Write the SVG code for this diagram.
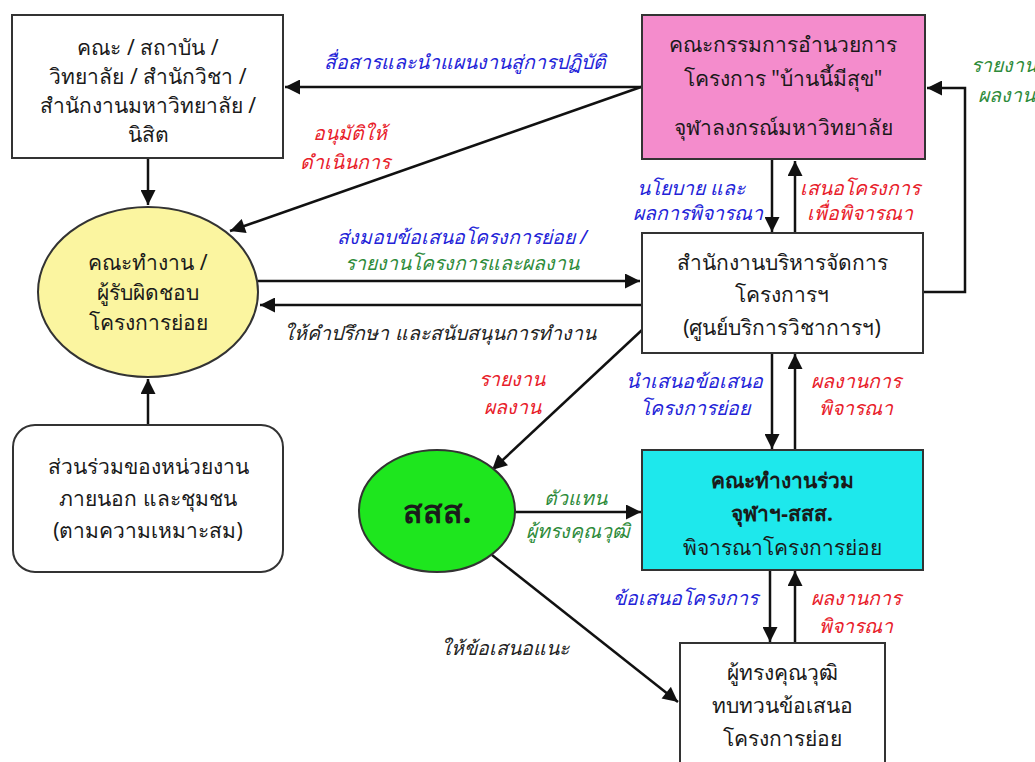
<svg xmlns="http://www.w3.org/2000/svg" width="1035" height="762" viewBox="0 0 1035 762">
<style>
.t{font-family:"Noto Sans","DejaVu Sans",sans-serif;font-size:21px;fill:#1a1a1a;text-anchor:middle}
.b{font-weight:bold}
.l{font-family:"Noto Sans","DejaVu Sans",sans-serif;font-size:19.5px;font-style:italic;text-anchor:middle}
.e{text-anchor:end}
.blue{fill:#2323d8}.red{fill:#e8202a}.green{fill:#2e8b3a}.dark{fill:#222}
.box{stroke:#333;stroke-width:2}
.c{stroke:#111;stroke-width:2.5;fill:none}
</style>
<defs>
<marker id="ah" viewBox="0 0 10 10" refX="10" refY="5" markerWidth="6.5" markerHeight="6" orient="auto" markerUnits="strokeWidth">
<path d="M0,0 L10,5 L0,10 z" fill="#111"/>
</marker>
</defs>
<rect width="1035" height="762" fill="#fff"/>
<g id="connectors">
<line class="c" x1="641" y1="87" x2="285" y2="87" marker-end="url(#ah)"/>
<line class="c" x1="641" y1="87" x2="230" y2="231" marker-end="url(#ah)"/>
<line class="c" x1="148" y1="158" x2="148" y2="205" marker-end="url(#ah)"/>
<line class="c" x1="258" y1="281" x2="640" y2="281" marker-end="url(#ah)"/>
<line class="c" x1="642" y1="305" x2="260" y2="305" marker-end="url(#ah)"/>
<line class="c" x1="772" y1="160" x2="772" y2="232" marker-end="url(#ah)"/>
<line class="c" x1="795" y1="233" x2="795" y2="161" marker-end="url(#ah)"/>
<polyline class="c" points="923,292 965,292 965,88 927,88" marker-end="url(#ah)"/>
<line class="c" x1="642" y1="330" x2="492" y2="470" marker-end="url(#ah)"/>
<line class="c" x1="772" y1="353" x2="772" y2="449" marker-end="url(#ah)"/>
<line class="c" x1="795" y1="450" x2="795" y2="354" marker-end="url(#ah)"/>
<line class="c" x1="515" y1="512" x2="641" y2="512" marker-end="url(#ah)"/>
<line class="c" x1="492" y1="555" x2="678" y2="702" marker-end="url(#ah)"/>
<line class="c" x1="770" y1="570" x2="770" y2="642" marker-end="url(#ah)"/>
<line class="c" x1="795" y1="643" x2="795" y2="571" marker-end="url(#ah)"/>
<line class="c" x1="148" y1="425" x2="148" y2="379" marker-end="url(#ah)"/>
</g>
<g id="labels">
<text class="l blue" x="465" y="69">สื่อสารและนำแผนงานสู่การปฏิบัติ</text>
<text class="l red" x="350" y="140">อนุมัติให้</text>
<text class="l red" x="345" y="169">ดำเนินการ</text>
<text class="l blue" x="462" y="244">ส่งมอบข้อเสนอโครงการย่อย /</text>
<text class="l green" x="462" y="270">รายงานโครงการและผลงาน</text>
<text class="l dark" x="440" y="340">ให้คำปรึกษา และสนับสนุนการทำงาน</text>
<text class="l blue e" x="745" y="195">นโยบาย และ</text>
<text class="l blue e" x="763" y="220">ผลการพิจารณา</text>
<text class="l red" x="860" y="195">เสนอโครงการ</text>
<text class="l red" x="860" y="220">เพื่อพิจารณา</text>
<text class="l green" x="1004" y="72">รายงาน</text>
<text class="l green" x="1006" y="102">ผลงาน</text>
<text class="l red" x="512" y="386">รายงาน</text>
<text class="l red" x="512" y="414">ผลงาน</text>
<text class="l blue e" x="763" y="388">นำเสนอข้อเสนอ</text>
<text class="l blue e" x="750" y="415">โครงการย่อย</text>
<text class="l red" x="856" y="388">ผลงานการ</text>
<text class="l red" x="856" y="415">พิจารณา</text>
<text class="l green" x="575" y="505">ตัวแทน</text>
<text class="l green" x="578" y="538">ผู้ทรงคุณวุฒิ</text>
<text class="l dark" x="505" y="655">ให้ข้อเสนอแนะ</text>
<text class="l blue e" x="758" y="605">ข้อเสนอโครงการ</text>
<text class="l red" x="856" y="605">ผลงานการ</text>
<text class="l red" x="856" y="633">พิจารณา</text>
</g>
<g id="n1">
<rect class="box" x="12" y="15" width="271" height="143" fill="#fff"/>
<text class="t" x="148" y="55">คณะ / สถาบัน /</text>
<text class="t" x="148" y="84">วิทยาลัย / สำนักวิชา /</text>
<text class="t" x="148" y="113">สำนักงานมหาวิทยาลัย /</text>
<text class="t" x="148" y="142">นิสิต</text>
</g>
<g id="n2">
<rect class="box" x="642" y="15" width="283" height="144" fill="#f48ccc"/>
<text class="t" x="783" y="52">คณะกรรมการอำนวยการ</text>
<text class="t" x="783" y="86">โครงการ "บ้านนี้มีสุข"</text>
<text class="t" x="783" y="135">จุฬาลงกรณ์มหาวิทยาลัย</text>
</g>
<g id="n3">
<ellipse class="box" cx="148" cy="292" rx="110" ry="85" fill="#fbf5a0"/>
<text class="t" x="148" y="270">คณะทำงาน /</text>
<text class="t" x="148" y="300">ผู้รับผิดชอบ</text>
<text class="t" x="148" y="330">โครงการย่อย</text>
</g>
<g id="n4">
<rect class="box" x="642" y="233" width="281" height="120" fill="#fff"/>
<text class="t" x="782" y="270">สำนักงานบริหารจัดการ</text>
<text class="t" x="782" y="302">โครงการฯ</text>
<text class="t" x="782" y="335">(ศูนย์บริการวิชาการฯ)</text>
</g>
<g id="n5">
<rect class="box" x="13" y="425" width="270" height="147" rx="22" fill="#fff"/>
<text class="t" x="148" y="474">ส่วนร่วมของหน่วยงาน</text>
<text class="t" x="148" y="506">ภายนอก และชุมชน</text>
<text class="t" x="148" y="538">(ตามความเหมาะสม)</text>
</g>
<g id="n6">
<ellipse class="box" cx="437" cy="511" rx="78" ry="61" fill="#1ee61e"/>
<text class="t b" x="437" y="523" style="font-size:32px">สสส.</text>
</g>
<g id="n7">
<rect class="box" x="642" y="450" width="281" height="120" fill="#1ee8ec"/>
<text class="t b" x="782" y="488">คณะทำงานร่วม</text>
<text class="t b" x="782" y="521">จุฬาฯ-สสส.</text>
<text class="t" x="782" y="555">พิจารณาโครงการย่อย</text>
</g>
<g id="n8">
<rect class="box" x="680" y="643" width="205" height="130" fill="#fff"/>
<text class="t" x="782" y="680">ผู้ทรงคุณวุฒิ</text>
<text class="t" x="782" y="713">ทบทวนข้อเสนอ</text>
<text class="t" x="782" y="746">โครงการย่อย</text>
</g>
</svg>
